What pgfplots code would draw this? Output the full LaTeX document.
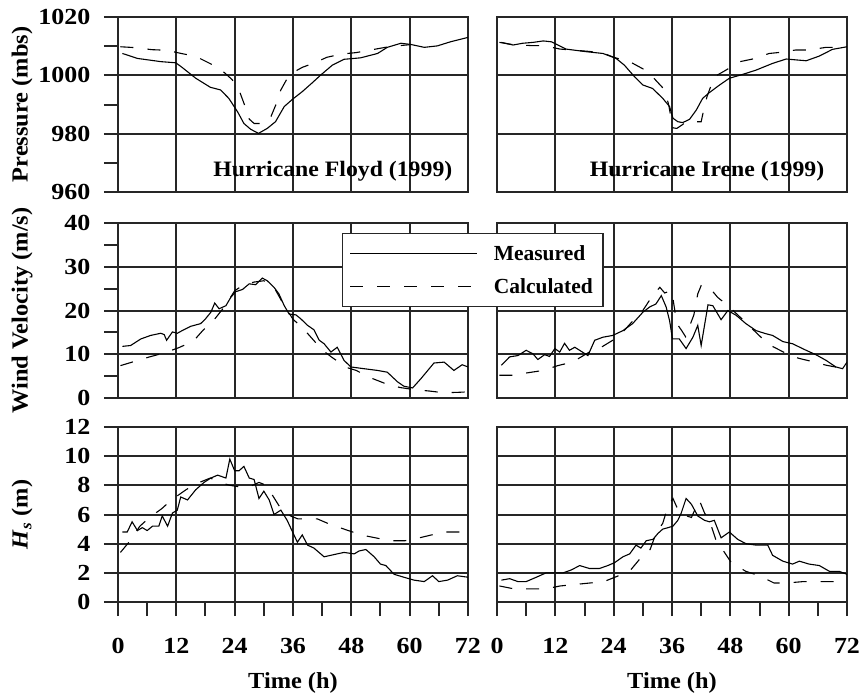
\documentclass[border=0pt]{standalone}
\usepackage{fontspec}
\setmainfont{Liberation Serif}
\newfontfamily\tickfam{Liberation Serif}[FakeStretch=1.13]
\newfontfamily\titlefam{Liberation Serif}[FakeStretch=1.08]
\newfontfamily\labfam{Liberation Serif}[FakeStretch=1.06]
\usepackage{pgfplots}
\pgfplotsset{compat=1.18}
\newcommand{\tf}{\tickfam\fontsize{23}{27}\selectfont\bfseries}
\newcommand{\ttl}{\titlefam\fontsize{22}{26}\selectfont\bfseries}
\newcommand{\lf}{\labfam\fontsize{23}{27}\selectfont\bfseries}
\newcommand{\legf}{\fontsize{21.5}{25}\selectfont\bfseries}
\pgfplotsset{
  panel/.style={
    scale only axis, width=350pt, height=175pt,
    xmin=0, xmax=72, xtick={0,12,...,72},
    grid=major,
    major grid style={line width=2pt, color=black!85},
    axis line style={line width=2pt, color=black!85},
    tick style={line width=2pt, color=black!85},
    tick align=outside,
    major tick length=14pt, minor tick length=14pt,
    xtick pos=bottom, ytick pos=left,
    every tick label/.append style={font=\tf},
    yticklabel style={xshift=-10pt},
    xticklabel style={yshift=-19pt},
    /pgf/number format/assume math mode=true,
    /pgf/number format/1000 sep={},
    every axis y label/.style={at={(axis description cs:-0.274,0.5)}, rotate=90, anchor=center, font=\lf},
    every axis x label/.style={at={(axis description cs:0.5,-0.463)}, anchor=center, font=\lf},
  },
  notopx/.style={xticklabels={}, xtick style={draw=none}},
  noleft/.style={yticklabels={}, ytick style={draw=none}, minor y tick num=0},
  bottomx/.style={minor x tick num=1},
  meas/.style={black, line width=1.1pt},
  calc/.style={black, line width=1.1pt, dash pattern=on 13pt off 14pt},
  pres/.style={ymin=960, ymax=1020, ytick={960,980,1000,1020}, minor y tick num=1},
  wind/.style={ymin=0, ymax=40, ytick={0,10,20,30,40}, minor y tick num=1},
  hs/.style={ymin=0, ymax=12, ytick={0,2,...,12}},
}
\begin{document}
\begin{tikzpicture}
\path[use as bounding box] (0,0) rectangle (860pt,-696pt);
% ---------- Top left: Floyd pressure
\begin{axis}[panel, pres, notopx, at={(118pt,-192pt)}, anchor=south west, ylabel={Pressure (mbs)}]
\addplot[meas] coordinates {(0.9,1007.5)(4,1005.8)(8.8,1004.7)(11.9,1004.3)(13.2,1002.7)(16,999)(19,995.9)(21.1,995)(22.8,992.1)(24.6,987.5)(25.9,983.5)(27.3,981.5)(28.9,980.1)(30.7,981.8)(32.4,984.1)(34.2,989.3)(35.9,991.8)(37.9,994.4)(40,997.5)(41.7,1000.1)(44.1,1003.5)(46.5,1005.5)(49.9,1006)(53.4,1007.5)(55.4,1009.6)(58.2,1011)(60.2,1010.6)(63,1009.6)(65.7,1010.1)(68.4,1011.5)(72,1013)};
\addplot[calc] coordinates {(0.5,1009.8)(3.5,1009.5)(7,1008.8)(10,1008.6)(13,1007.5)(16,1006.5)(19,1004)(21.5,1001.5)(23.5,998.5)(25,994.5)(26,990)(27,985)(28,983.5)(30,983.5)(31.5,986)(32.5,990)(33.5,995)(35,999.5)(36,1001)(38,1002.8)(40,1004)(43,1006.2)(46,1007.3)(49,1007.8)(52,1008.7)(55,1009.6)(58,1010.2)(60,1010.5)};
\node[font=\ttl, anchor=center] at (axis cs:44.2,967.2) {Hurricane Floyd (1999)};
\end{axis}
% ---------- Top right: Irene pressure
\begin{axis}[panel, pres, notopx, noleft, at={(497pt,-192pt)}, anchor=south west]
\addplot[meas] coordinates {(0.9,1011.3)(3.3,1010.4)(5.3,1011)(7.4,1011.3)(9.5,1011.8)(11.2,1011.5)(14.2,1009)(18.4,1008.1)(21.8,1007.5)(24.5,1005.8)(26.2,1003.5)(28.3,999.5)(30,996.7)(32,995.5)(34.1,992.1)(35.5,989.3)(36.2,985.3)(37.2,984.1)(38.2,983.8)(39.6,984.9)(41,988.1)(42.3,992.1)(43.7,994.1)(45.8,996.7)(47.8,999)(50.5,1000.3)(53.3,1001.8)(56.7,1004.1)(59.5,1005.6)(61.5,1005.3)(63.6,1005)(66.3,1006.6)(69,1008.9)(72,1009.8)};
\addplot[calc] coordinates {(0.5,1011.3)(3,1010.6)(7,1010.2)(9.5,1010.2)(13,1009)(16,1008.6)(19,1008.2)(22,1007.5)(24,1006.2)(27.5,1004.5)(30.5,1001.8)(32,999.5)(34.5,995)(35.3,990)(35.8,985.5)(36.2,982)(37,981.8)(38.5,983.5)(39,984.1)(42,984.1)(42.5,988)(43.2,992.7)(44.7,999.5)(46.8,1001.5)(50,1004.7)(52.6,1005.6)(56,1007.5)(58.4,1007.9)(61.5,1008.7)(64.2,1008.7)(67.7,1009.6)(70.5,1009.6)(72,1009.8)};
\node[font=\ttl, anchor=center] at (axis cs:43.2,967.2) {Hurricane Irene (1999)};
\end{axis}
% ---------- Middle left: Floyd wind
\begin{axis}[panel, wind, notopx, at={(118pt,-398pt)}, anchor=south west, ylabel={Wind Velocity (m/s)}]
\addplot[meas] coordinates {(0.9,11.8)(2.6,12)(4.7,13.5)(6.7,14.3)(8.8,14.8)(9.5,14.5)(10,13.2)(11.2,15.1)(12.2,14.8)(13.2,15.4)(15,16.4)(17,17)(18,18.1)(19.1,19.6)(19.9,21.7)(20.8,20.4)(22.2,21.1)(23.2,23)(24.2,24.3)(25.6,24.8)(27,26.1)(28.3,25.9)(29.7,27.4)(30.7,26.8)(32.1,25.3)(33.1,23.8)(34.2,21.1)(35.2,19.2)(36.6,19)(37.6,18.1)(39,16.6)(40.3,15.6)(41.4,13.2)(42.4,12.4)(43.8,10.5)(45.1,11.6)(46.5,8.6)(47.9,7.1)(50.6,6.7)(53.4,6.3)(55.4,5.9)(57.5,3.7)(58.8,2.7)(60.6,2.3)(62.3,4.4)(65,8)(67.1,8.2)(69.1,6.3)(70.8,7.6)(72,7.1)};
\addplot[calc] coordinates {(0.5,7.4)(3.5,8.4)(6.5,9.4)(9.5,10.3)(12.5,11.5)(15.5,13)(17.5,15.5)(19.5,17.5)(22,21)(24,24.5)(26,26)(28,26.5)(30,26.8)(32,25.5)(34,21.5)(36,18)(38,16)(40,13.5)(42,11)(44,9.3)(47,7)(49,6.3)(52,4.6)(55,3.3)(58,2.4)(61,1.9)(64,1.6)(67,1.2)(70,1.3)(72,1.4)};
\end{axis}
% ---------- Middle right: Irene wind (holds the legend, drawn on top)
\begin{axis}[panel, wind, notopx, noleft, at={(497pt,-398pt)}, anchor=south west,
  legend style={at={(axis description cs:-0.443,0.943)}, anchor=north west,
    draw=black!85, line width=1.4pt, fill=white, font=\legf,
    inner xsep=7pt, inner ysep=9pt, row sep=10pt,
    nodes={inner sep=3pt},
    /tikz/every odd column/.append style={column sep=13pt}},
  legend cell align=left,
  legend image code/.code={\draw[#1] (0pt,0pt) -- (127pt,0pt);}]
\addplot[meas] coordinates {(0.9,7.5)(2.6,9.4)(4.3,9.7)(6,10.9)(7.4,10.1)(8.4,8.8)(9.8,9.9)(10.8,9.5)(11.9,11.3)(12.9,10.5)(13.9,12.5)(14.9,10.9)(16,11.6)(17,10.9)(18.7,9.7)(20.1,13.2)(21.8,13.9)(23.8,14.3)(25.9,15.4)(27.9,17)(30,19.6)(31.4,20.8)(32.7,21.5)(33.8,23.4)(34.8,20.8)(35.5,17.7)(36.1,13.5)(37.5,13.5)(38.9,11.3)(40.3,13.9)(41.3,16.6)(42,12)(43.4,21.3)(44.4,21.1)(46.1,17.9)(47.5,20)(49.2,18.9)(51.2,17)(53.3,15.4)(55.3,14.7)(56.7,14.3)(58.8,12.9)(60.8,12.4)(63.6,10.9)(65.6,9.9)(67.7,8.6)(69.7,7.1)(71.1,6.7)(72,8.2)};
\addlegendentry{Measured}
\addplot[calc] coordinates {(0.5,5.2)(3.5,5.2)(6.5,5.8)(9.5,6.3)(12.5,7.4)(15.5,8.2)(19,10.5)(21,11.3)(25,14)(28,17.7)(30,20)(32,23.4)(33.5,25.3)(34.5,24)(35.8,24.6)(36.2,22.7)(37,17)(38,15.4)(38.8,14)(40.5,19)(41.3,23.8)(42,25.7)(43.5,25.5)(45.4,23)(47.5,21.1)(50,18.5)(54.3,13.9)(56.3,12)(60,9.9)(62,9.1)(65.3,8.2)(67.7,7.5)(70,7)(72,6.8)};
\addlegendentry{Calculated}
\end{axis}
% ---------- Bottom left: Floyd Hs
\begin{axis}[panel, hs, bottomx, at={(118pt,-602pt)}, anchor=south west,
  ylabel={\textit{H}\textsubscript{\textit{s}} (m)}, xlabel={Time (h)}]
\addplot[meas] coordinates {(0.9,4.8)(1.9,4.8)(2.9,5.5)(4,4.9)(5,5.1)(6,4.9)(7.1,5.2)(8.4,5.2)(9.1,5.9)(10.2,5.2)(11.2,6.1)(12.2,6.3)(12.9,7.2)(14.3,7)(16,7.7)(17.7,8.2)(19.1,8.5)(20.5,8.7)(22.2,8.5)(23,9.8)(24,9)(24.9,9)(25.9,9.3)(27,8.5)(28,8.4)(29,7.1)(30,7.6)(31.1,7)(32.1,6)(33.5,6.3)(34.8,5.6)(36.2,4.6)(36.9,4.1)(37.9,4.6)(39,3.9)(40.3,3.7)(42.4,3.1)(45.1,3.3)(46.5,3.4)(48.6,3.3)(49.6,3.5)(51,3.6)(52.7,3.1)(54,2.6)(55.1,2.5)(56.8,1.9)(58.8,1.7)(60.9,1.5)(63,1.4)(64.7,1.8)(66,1.4)(67.8,1.5)(69.8,1.8)(72,1.7)};
\addplot[calc] coordinates {(0.5,3.4)(2.5,4.2)(4.5,5.2)(6.5,5.8)(9,6.4)(11,7)(14,7.7)(16,8.1)(19,8.5)(21,8.2)(23,8)(25,7.9)(27,7.9)(29,8.2)(30.5,8)(32,7.2)(33.5,6.4)(35.5,5.9)(37,5.7)(41,5.7)(43.8,5.3)(46.5,5)(50,4.6)(53,4.4)(56,4.2)(59,4.2)(62,4.4)(64.5,4.6)(67.5,4.8)(70.5,4.8)(72,4.8)};
\end{axis}
% ---------- Bottom right: Irene Hs
\begin{axis}[panel, hs, bottomx, noleft, at={(497pt,-602pt)}, anchor=south west, xlabel={Time (h)}]
\addplot[meas] coordinates {(0.9,1.5)(2.6,1.6)(4.3,1.4)(6,1.4)(8.1,1.7)(10.1,2)(11.8,2)(13.6,2)(15.3,2.2)(17,2.5)(19,2.3)(21.1,2.3)(22.8,2.5)(24.2,2.7)(25.9,3.1)(27.3,3.3)(28.6,3.9)(29.6,3.7)(30.7,4.2)(32.1,4.3)(33.1,4.7)(34.1,5)(35.2,5.1)(36.2,5.2)(37.2,5.6)(37.9,6.1)(38.9,7.1)(40,6.7)(41.3,5.9)(42.7,5.6)(43.7,5.5)(44.7,5.6)(46.1,4.4)(47.8,4.8)(49.5,4.3)(51.2,4)(53.3,3.9)(54.7,3.9)(55.7,3.9)(56.7,3.2)(58.8,2.8)(60.8,2.6)(62.2,2.8)(64.2,2.6)(66.3,2.5)(68.4,2.1)(70.4,2.1)(72,1.9)};
\addplot[calc] coordinates {(0.5,1.1)(3.5,0.9)(7,0.9)(10,0.9)(13,1.1)(16,1.2)(19,1.3)(22,1.4)(25,1.8)(27.5,2.2)(29.5,3)(31.5,3.6)(32.7,4.7)(34.1,5.4)(35.2,6.6)(36.2,7.1)(37,6.5)(38,6)(40,5.8)(41.6,7)(42.7,6.1)(43.7,5.6)(45,4.3)(46.8,3.4)(48.2,2.7)(51.2,2.1)(54,1.8)(57,1.3)(59.5,1.3)(63,1.4)(66,1.4)(69,1.4)(72,1.4)};
\end{axis}
\end{tikzpicture}
\end{document}
